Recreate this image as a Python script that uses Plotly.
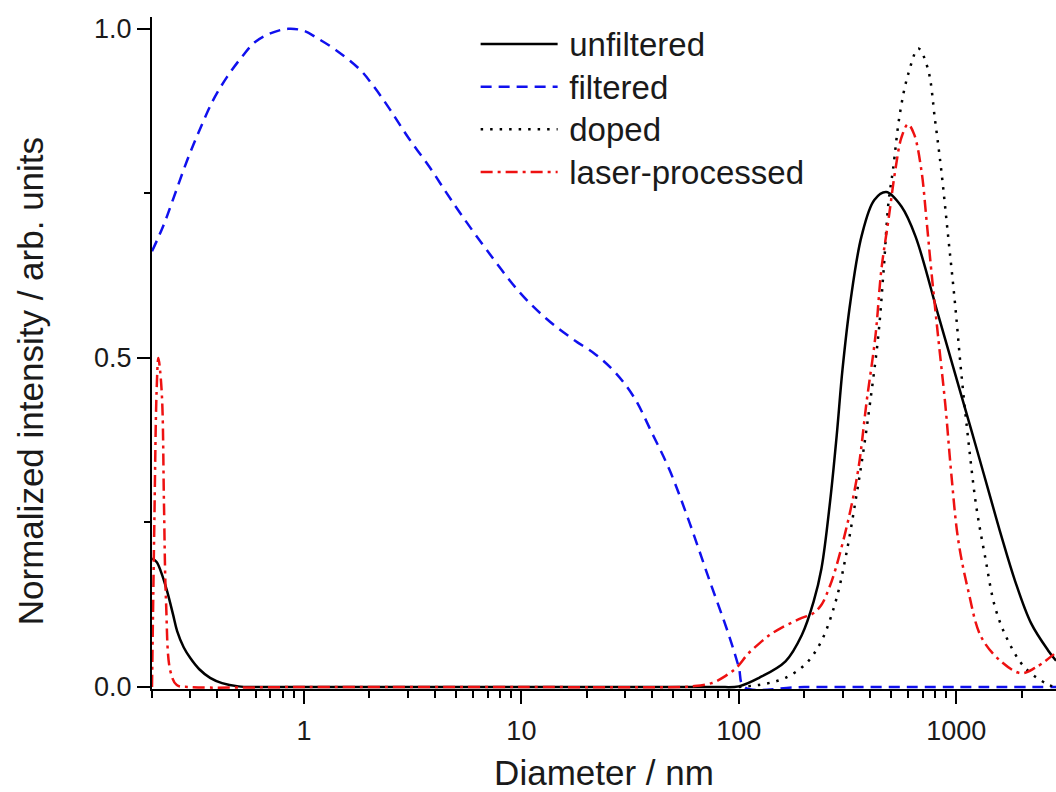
import plotly.graph_objects as go

# ---------------- data ----------------
unf_d = [0.2, 0.21, 0.22, 0.235, 0.25, 0.261, 0.28, 0.3, 0.33, 0.37, 0.42, 0.5, 0.6, 1, 10, 50, 80,
         100, 124, 164, 195, 221, 240, 263, 282, 300, 326, 367, 420, 477, 560, 649, 827, 1054,
         1222, 1403, 1611, 1866, 2209, 2642, 2880]
unf_i = [0.195, 0.19, 0.175, 0.145, 0.11, 0.085, 0.06, 0.044, 0.027, 0.014, 0.006, 0.001, 0.0, 0.0, 0.0, 0.0, 0.0,
         0.001, 0.014, 0.039, 0.079, 0.13, 0.18, 0.282, 0.382, 0.483, 0.585, 0.685, 0.74, 0.752, 0.73, 0.685, 0.565, 0.444,
         0.37, 0.30, 0.23, 0.161, 0.097, 0.056, 0.04]

fil_d = [0.2, 0.225, 0.25, 0.29, 0.327, 0.38, 0.443, 0.52, 0.596, 0.7, 0.845, 1.0, 1.15, 1.4, 1.81, 2.1, 2.48,
         3.0, 3.78, 4.5, 5.36, 7.0, 9.8, 13, 17, 22, 27, 33, 40, 48, 59, 72.8, 90, 100, 106, 200, 1000, 2880]
fil_i = [0.662, 0.70, 0.741, 0.80, 0.842, 0.89, 0.927, 0.958, 0.98, 0.993, 1.0, 0.997, 0.986, 0.968, 0.938, 0.912, 0.878,
         0.836, 0.79, 0.752, 0.715, 0.662, 0.6, 0.56, 0.53, 0.505, 0.478, 0.44, 0.385, 0.33, 0.252, 0.165, 0.079, 0.03, 0.0, 0.0, 0.0, 0.0]

dop_d = [100, 133, 164, 203, 240, 279, 310, 344, 374, 402, 438, 464, 488, 512, 550, 600, 670, 740, 800, 853,
         918, 988, 1054, 1135, 1236, 1358, 1510, 1733, 2074, 2640, 2880]
dop_i = [0.0, 0.005, 0.014, 0.035, 0.07, 0.13, 0.197, 0.282, 0.358, 0.433, 0.533, 0.635, 0.736, 0.786, 0.87, 0.93, 0.97, 0.94, 0.86, 0.786,
         0.685, 0.582, 0.479, 0.377, 0.275, 0.198, 0.121, 0.07, 0.029, 0.004, 0.0]

las_d = [0.2, 0.205, 0.21, 0.214, 0.218, 0.223, 0.227, 0.232, 0.243, 0.26, 0.3, 1, 10, 55, 61, 75, 87, 98, 110,
         124, 140, 157, 195, 220, 240, 260, 279, 320, 355, 387, 425, 453, 488, 525, 560, 600, 640, 691, 730,
         768, 827, 891, 948, 1021, 1135, 1303, 1607, 1987, 2303, 2818]
las_i = [0.0, 0.25, 0.45, 0.5, 0.48, 0.43, 0.28, 0.13, 0.024, 0.003, 0.0, 0.0, 0.0, 0.0, 0.001, 0.006, 0.017, 0.03, 0.05,
         0.066, 0.08, 0.09, 0.105, 0.112, 0.125, 0.15, 0.18, 0.256, 0.332, 0.433, 0.533, 0.635, 0.71, 0.786, 0.835, 0.855, 0.84, 0.786, 0.71,
         0.633, 0.53, 0.429, 0.326, 0.224, 0.147, 0.076, 0.039, 0.021, 0.029, 0.05]

series_names = ["unfiltered", "filtered", "doped", "laser-processed"]

x_major = [1, 10, 100, 1000]
x_minor = [0.2, 0.3, 0.4, 0.5, 0.6, 0.7, 0.8, 0.9, 2, 3, 4, 5, 6, 7, 8, 9, 20, 30, 40, 50, 60, 70, 80, 90,
           200, 300, 400, 500, 600, 700, 800, 900, 2000]
y_major = [0.0, 0.5, 1.0]
y_minor = [0.25, 0.75]

x_title = "Diameter / nm"
y_title = "Normalized intensity / arb. units"

FONT = "Liberation Sans, Arial, sans-serif"
TXT = "#1a1a1a"


def legend_label(s):
    return '<span style="font-size:33px">\u2009%s</span>' % s


fig = go.Figure()
fig.add_trace(go.Scatter(x=unf_d, y=unf_i, name=legend_label(series_names[0]), mode="lines", line_shape="spline",
                         line=dict(color="black", width=2.5)))
fig.add_trace(go.Scatter(x=fil_d, y=fil_i, name=legend_label(series_names[1]), mode="lines", line_shape="spline",
                         line=dict(color="#1010ee", width=2.5, dash="11px,7px")))
fig.add_trace(go.Scatter(x=dop_d, y=dop_i, name=legend_label(series_names[2]), mode="lines", line_shape="spline",
                         line=dict(color="black", width=2.5, dash="2.5px,7px")))
fig.add_trace(go.Scatter(x=las_d, y=las_i, name=legend_label(series_names[3]), mode="lines", line_shape="spline",
                         line=dict(color="#ee1111", width=2.5, dash="12px,5px,3px,5px")))

fig.update_layout(
    width=1056, height=792,
    margin=dict(l=152, r=0, t=17, b=103),
    paper_bgcolor="white", plot_bgcolor="white",
    font=dict(family=FONT, color=TXT, size=27),
    legend=dict(x=0.358, y=0.999, xanchor="left", yanchor="top", bgcolor="rgba(0,0,0,0)",
                font=dict(size=30.5, family=FONT, color=TXT), itemwidth=77, tracegroupgap=0),
    xaxis=dict(type="log", range=[-0.699, 3.459], showgrid=False, zeroline=False, automargin=False,
               showline=True, linecolor="black", linewidth=2, layer="below traces",
               ticks="outside", ticklen=13, tickwidth=2, tickcolor="black",
               tickmode="array", tickvals=x_major, ticktext=[str(v) for v in x_major],
               tickfont=dict(size=27, family=FONT, color=TXT), ticklabelstandoff=4,
               minor=dict(ticks="outside", ticklen=7, tickwidth=2, tickcolor="black",
                          tickmode="array", tickvals=x_minor),
               title=dict(text=x_title, font=dict(size=35, family=FONT, color=TXT), standoff=16)),
    yaxis=dict(range=[-0.003, 1.018], showgrid=False, zeroline=False, automargin=False,
               showline=True, linecolor="black", linewidth=2, layer="below traces",
               ticks="outside", ticklen=13, tickwidth=2, tickcolor="black",
               tickmode="array", tickvals=y_major, ticktext=["%.1f" % v for v in y_major],
               tickfont=dict(size=27, family=FONT, color=TXT),
               minor=dict(ticks="outside", ticklen=6, tickwidth=2, tickcolor="black",
                          tickmode="array", tickvals=y_minor)),
    annotations=[dict(text=y_title, textangle=-90, xref="paper", yref="paper",
                      x=-0.135, y=0.458, xanchor="center", yanchor="middle", showarrow=False,
                      font=dict(size=35, family=FONT, color=TXT))],
)

fig.write_html("out.html")
